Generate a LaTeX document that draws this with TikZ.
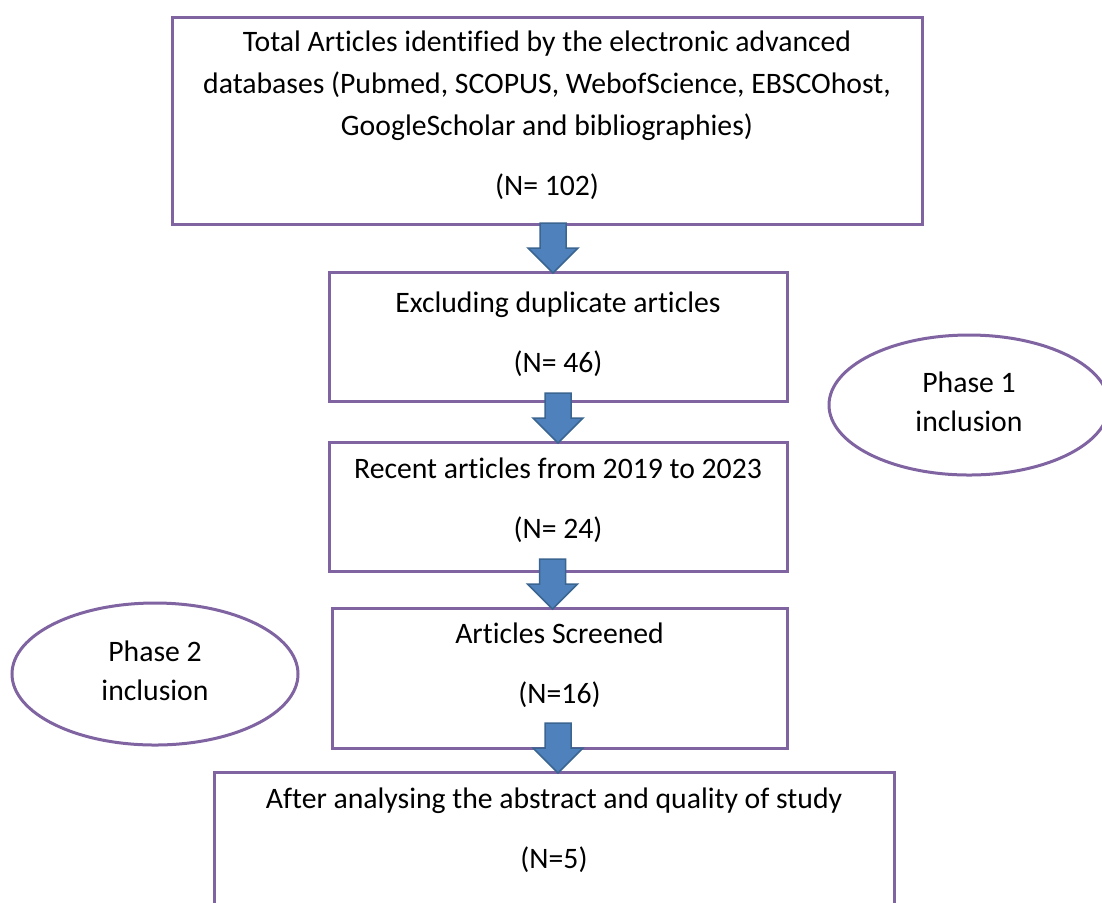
\documentclass[tikz,border=0pt]{standalone}
\usepackage{fontspec}
\setmainfont{Carlito}[Ligatures=NoCommon]
\usetikzlibrary{shapes.geometric,calc}
\definecolor{boxpurple}{HTML}{8064A2}
\definecolor{arrowblue}{HTML}{4F81BD}
\definecolor{arrowedge}{HTML}{3A6591}

\begin{document}
\begin{tikzpicture}[x=0.5pt,y=-0.5pt,
        stage/.style={draw=boxpurple, line width=1.5pt, align=center, anchor=north,
            inner sep=0pt, font=\fontsize{14.85pt}{21pt}\selectfont},
        phase/.style={ellipse, draw=boxpurple, line width=1.5pt, align=center,
            inner sep=0pt, font=\fontsize{14.85pt}{19.5pt}\selectfont},
        downarrow/.style={fill=arrowblue, draw=arrowedge, line width=0.75pt}]

        % Page of the same size as the reference
        \useasboundingbox (0,0) rectangle (1102,902);
        \clip (0,0) rectangle (1102,902);
        \fill[white] (0,0) rectangle (1102,902);

        % Stages of the selection
        \node[stage, minimum width=375pt, minimum height=103.5pt] (total) at (547,16)
            {Total Articles identified by the electronic advanced\\
             databases (Pubmed, SCOPUS, WebofScience, EBSCOhost,\\
             GoogleScholar and bibliographies)\\[9pt]
             (N= 102)\rule[-8pt]{0pt}{8pt}};
        \node[stage, minimum width=229pt, minimum height=64.5pt] (dup) at (558,271)
            {Excluding duplicate articles\\[9pt] (N= 46)\rule[-4.5pt]{0pt}{4.5pt}};
        \node[stage, minimum width=229pt, minimum height=64.5pt] (recent) at (558,441)
            {Recent articles from 2019 to 2023\\[9pt] (N= 24)\rule[-9pt]{0pt}{9pt}};
        \node[stage, minimum width=227.5pt, minimum height=70pt] (screened) at (559.5,607)
            {Articles Screened\\[9pt] (N=16)\rule[-15.5pt]{0pt}{15.5pt}};
        \node[stage, minimum width=340pt, minimum height=85pt] (final) at (554,771)
            {After analysing the abstract and quality of study\\[9pt] (N=5)\rule[-29pt]{0pt}{29pt}};

        % Phases
        \node[phase, minimum width=140pt, minimum height=70pt] (phaseone) at (969,405)
            {Phase 1\\ inclusion\rule[-3pt]{0pt}{3pt}};
        \node[phase, minimum width=143pt, minimum height=71pt] (phasetwo) at (155,674)
            {Phase 2\\ inclusion\rule[-3pt]{0pt}{3pt}};

        % Block arrows between the stages
        \foreach \target/\dx in {dup/-5, recent/0, screened/-7, final/4} {
            \filldraw[downarrow] ($(\target.north)+(\dx-13,-48)$) -- ++(26,0) -- ++(0,25)
                -- ++(12,0) -- ($(\target.north)+(\dx,2)$) -- ++(-25,-25) -- ++(12,0) -- cycle;
        }
    \end{tikzpicture}
\end{document}
